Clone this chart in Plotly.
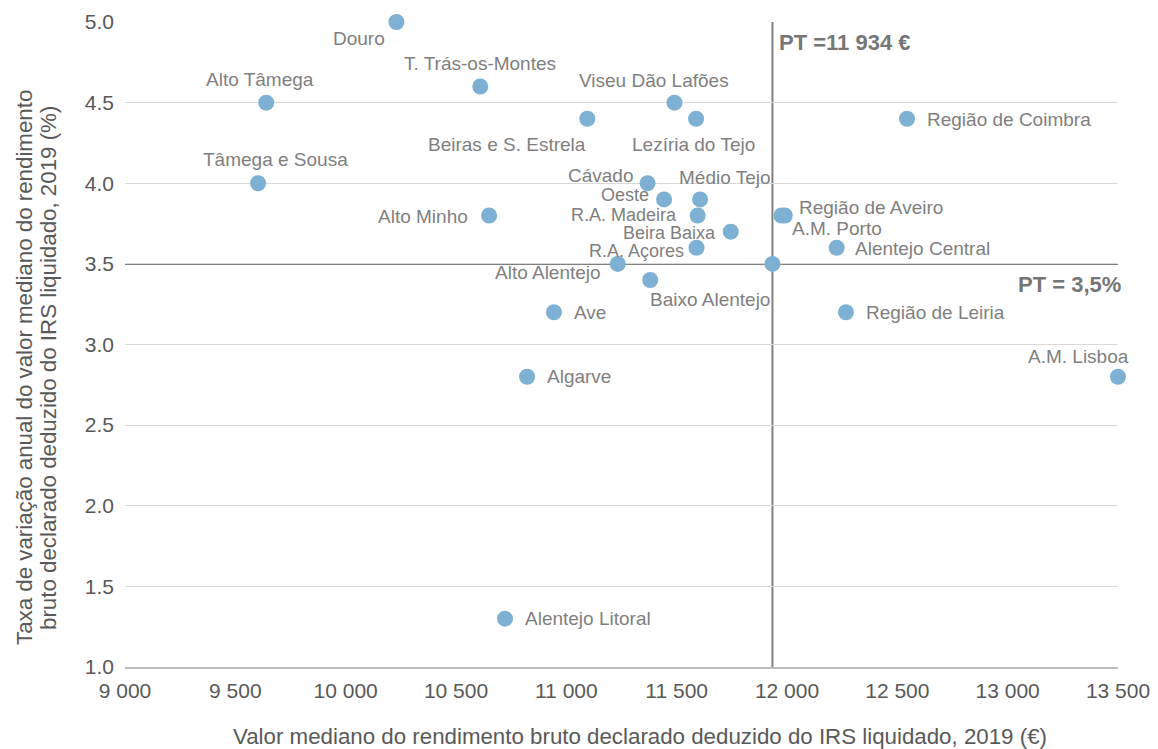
import plotly.graph_objects as go

# ---- data ----
regions = [
    "Douro", "Alto Tâmega", "T. Trás-os-Montes", "Beiras e S. Estrela",
    "Viseu Dão Lafões", "Lezíria do Tejo", "Região de Coimbra", "Tâmega e Sousa",
    "Cávado", "Oeste", "Médio Tejo", "Alto Minho", "R.A. Madeira", "Beira Baixa",
    "R.A. Açores", "Alto Alentejo", "Baixo Alentejo", "Região de Aveiro",
    "A.M. Porto", "Alentejo Central", "Ave", "Região de Leiria", "Algarve",
    "A.M. Lisboa", "Alentejo Litoral",
]
income = [
    10230, 9640, 10610, 11095,
    11490, 11588, 12544, 9603,
    11368, 11443, 11606, 10650, 11595, 11745,
    11590, 11233, 11380, 11990,
    11975, 12225, 10944, 12267, 10822,
    13500, 10722,
]
growth = [
    5.0, 4.5, 4.6, 4.4,
    4.5, 4.4, 4.4, 4.0,
    4.0, 3.9, 3.9, 3.8, 3.8, 3.7,
    3.6, 3.5, 3.4, 3.8,
    3.8, 3.6, 3.2, 3.2, 2.8,
    2.8, 1.3,
]
pt_income = 11934
pt_growth = 3.5
pt_income_label = "PT =11 934 €"
pt_growth_label = "PT = 3,5%"
x_ticks = [9000, 9500, 10000, 10500, 11000, 11500, 12000, 12500, 13000, 13500]
y_ticks = [1.0, 1.5, 2.0, 2.5, 3.0, 3.5, 4.0, 4.5, 5.0]
x_title = "Valor mediano do rendimento bruto declarado deduzido do IRS liquidado, 2019 (€)"
y_title_lines = ["Taxa de variação anual do valor mediano do rendimento",
                 "bruto declarado deduzido do IRS liquidado, 2019 (%)"]

# ---- label placement (style only): (xanchor, xshift px, yshift px, font size) ----
label_style = {
    "Douro": ("right", -9, -16, 19),
    "Alto Tâmega": ("center", -6, 23, 19),
    "T. Trás-os-Montes": ("center", 0, 23, 19),
    "Beiras e S. Estrela": ("right", 1, -26, 19),
    "Viseu Dão Lafões": ("center", -20, 22, 19),
    "Lezíria do Tejo": ("center", -3, -26, 19),
    "Região de Coimbra": ("left", 18, -1, 19),
    "Tâmega e Sousa": ("center", 17, 24, 19),
    "Cávado": ("right", -12, 8, 19),
    "Oeste": ("right", -13, 4, 18),
    "Médio Tejo": ("center", 25, 22, 19),
    "Alto Minho": ("right", -19, -1, 19),
    "R.A. Madeira": ("right", -19, 1, 18),
    "Beira Baixa": ("right", -13, -1, 18),
    "R.A. Açores": ("right", -11, -3, 18),
    "Alto Alentejo": ("right", -15, -9, 19),
    "Baixo Alentejo": ("left", -2, -19, 19),
    "Região de Aveiro": ("left", 12, 8, 19),
    "A.M. Porto": ("left", 9, -13, 19),
    "Alentejo Central": ("left", 16, -1, 19),
    "Ave": ("left", 18, 0, 19),
    "Região de Leiria": ("left", 18, 0, 19),
    "Algarve": ("left", 18, 0, 19),
    "A.M. Lisboa": ("center", -40, 20, 19),
    "Alentejo Litoral": ("left", 18, 0, 19),
}

FONT = "Liberation Sans, Arial, sans-serif"
MARKER = "#7DB0D3"
LABEL_C = "#7F7F7F"
TICK_C = "#595959"
PT_C = "#808080"

fig = go.Figure()
fig.add_trace(go.Scatter(
    x=income + [pt_income], y=growth + [pt_growth], mode="markers",
    marker=dict(size=16, color=MARKER), cliponaxis=False,
    hovertext=regions + ["PT"], hoverinfo="text+x+y",
))

annotations = []
for name, xv, yv in zip(regions, income, growth):
    xa, dx, dy, fs = label_style[name]
    annotations.append(dict(
        x=xv, y=yv, xref="x", yref="y", text=name, showarrow=False,
        xanchor=xa, yanchor="middle", xshift=dx, yshift=dy,
        font=dict(family=FONT, size=fs, color=LABEL_C),
    ))
annotations.append(dict(
    x=pt_income, y=5.0, xref="x", yref="y", text="<b>" + pt_income_label + "</b>",
    showarrow=False, xanchor="left", yanchor="middle", xshift=5, yshift=-20,
    font=dict(family=FONT, size=22, color="#767676"),
))
annotations.append(dict(
    x=13500, y=pt_growth, xref="x", yref="y", text="<b>" + pt_growth_label + "</b>",
    showarrow=False, xanchor="right", yanchor="middle", xshift=5, yshift=-21,
    font=dict(family=FONT, size=22, color="#767676"),
))
# axis titles
annotations.append(dict(
    x=0, y=0, xref="paper", yref="paper", text=x_title, showarrow=False,
    xanchor="center", yanchor="middle", xshift=640 - 125, yshift=-(736 - 667),
    font=dict(family=FONT, size=22.3, color=TICK_C),
))
for i, (line, cx) in enumerate(zip(y_title_lines, [24, 48])):
    annotations.append(dict(
        x=0, y=0, xref="paper", yref="paper", text=line, showarrow=False,
        textangle=-90, xanchor="center", yanchor="middle",
        xshift=cx - 125, yshift=667 - 368,
        font=dict(family=FONT, size=22.3, color=TICK_C),
    ))

shapes = [
    dict(type="line", xref="x", yref="y", x0=pt_income, x1=pt_income, y0=1.0, y1=5.0,
         line=dict(color=PT_C, width=2), layer="below"),
    dict(type="line", xref="x", yref="y", x0=9000, x1=13500, y0=pt_growth, y1=pt_growth,
         line=dict(color=PT_C, width=2), layer="below"),
]

fig.update_layout(
    width=1158, height=749,
    margin=dict(l=125, r=40, t=22, b=82, autoexpand=False),
    plot_bgcolor="white", paper_bgcolor="white",
    showlegend=False,
    separators=". ",
    font=dict(family=FONT, color=TICK_C),
    annotations=annotations,
    shapes=shapes,
)
fig.update_xaxes(
    range=[9000, 13500], tickvals=x_ticks, tickformat=",.0f", automargin=False,
    showgrid=False, zeroline=False, showline=True, linecolor="#BFBFBF", linewidth=1.5,
    tickfont=dict(family=FONT, size=21, color=TICK_C), ticklabelstandoff=4,
)
fig.update_yaxes(
    range=[1.0, 5.0], tickvals=y_ticks, tickformat=".1f", automargin=False,
    showgrid=True, gridcolor="#D9D9D9", gridwidth=1, zeroline=False, showline=False,
    tickfont=dict(family=FONT, size=21, color=TICK_C), ticklabelstandoff=10,
)

fig.write_html(
    "out.html",
    config={"displayModeBar": False},
    post_script="document.body.style.margin='0px';document.body.style.overflow='hidden';",
)
